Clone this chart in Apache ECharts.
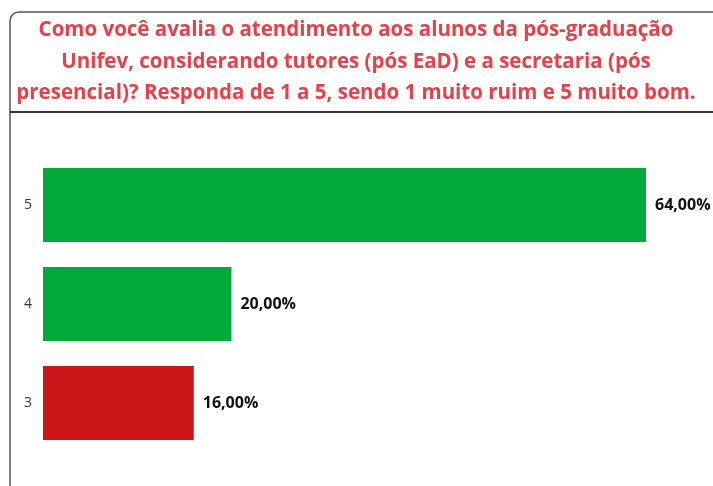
<!DOCTYPE html>
<html>
<head>
<meta charset="utf-8">
<script src="https://cdn.jsdelivr.net/npm/echarts@6/dist/echarts.min.js"></script>
<style>
  html, body { margin: 0; padding: 0; background: #fff; }
  #main { width: 713px; height: 486px; }
</style>
</head>
<body>
<div id="main"></div>
<script>
var categories = ['3', '4', '5']
var values = [16, 20, 64]
var barColors = ['#cc1518', '#00aa3a', '#00aa3a']
var titleLines = [
  'Como você avalia o atendimento aos alunos da pós-graduação',
  'Unifev, considerando tutores (pós EaD) e a secretaria (pós',
  'presencial)? Responda de 1 a 5, sendo 1 muito ruim e 5 muito bom.'
]

var titleGraphics = titleLines.map(function (line, i) {
  return {
    type: 'text',
    x: 356,
    y: 30.5 + i * 31.5,
    style: {
      text: line,
      fill: '#e8404a',
      font: 'bold 20.5px "Open Sans"',
      align: 'center',
      verticalAlign: 'middle',
      textAlign: 'center',
      textVerticalAlign: 'middle'
    }
  }
})

var myChart = echarts.init(document.getElementById('main'))
var option = {
  animation: false,
  graphic: [
    {
      type: 'rect',
      shape: { x: 10, y: 12, width: 740, height: 520, r: [9, 0, 0, 0] },
      style: { fill: 'none', stroke: '#555', lineWidth: 1.5 },
      z: -1
    },
    {
      type: 'line',
      shape: { x1: 10, y1: 112, x2: 713, y2: 112 },
      style: { stroke: '#333', lineWidth: 2 },
      z: -1
    }
  ].concat(titleGraphics),
  grid: { left: 43, right: 67, top: 155.5, bottom: 33.5 },
  xAxis: {
    type: 'value',
    min: 0,
    max: 64,
    show: false
  },
  yAxis: {
    type: 'category',
    data: categories,
    axisLine: { show: false },
    axisTick: { show: false },
    axisLabel: { color: '#333', fontSize: 14, margin: 11, fontFamily: 'Open Sans' }
  },
  series: [
    {
      type: 'bar',
      barWidth: 74,
      data: values.map(function (v, i) {
        return { value: v, itemStyle: { color: barColors[i] } }
      }),
      label: {
        show: true,
        position: 'right',
        distance: 9,
        color: '#111',
        fontWeight: 'bold',
        fontSize: 16,
        fontFamily: 'Open Sans',
        formatter: function (p) {
          return p.value.toFixed(2).replace('.', ',') + '%'
        }
      }
    }
  ]
}
myChart.setOption(option)
</script>
</body>
</html>
